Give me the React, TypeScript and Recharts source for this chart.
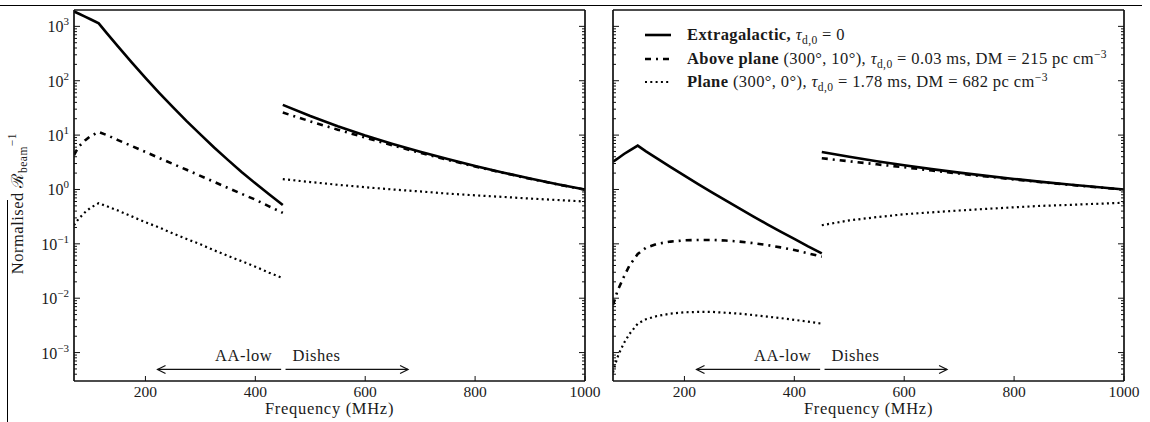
import { LineChart, Line, XAxis, YAxis, ReferenceLine } from 'recharts'

const FONT = '"Liberation Serif", "DejaVu Serif", serif'
const INK = '#111'
const TEXT = '#1a1a1a'

// frequency grids (MHz): AA-low band and Dishes band
const lowFreq = [70, 75, 80, 90, 100, 115, 130, 150, 175, 200, 225, 250, 275, 300, 325, 350, 375, 400, 425, 450]
const highFreq = [450, 500, 550, 600, 650, 700, 750, 800, 850, 900, 950, 1000]

// left panel
const leftExtraLow = [1880, 1780, 1690, 1510, 1350, 1135, 743, 427, 217, 113, 60, 32.7, 18.1, 10.3, 5.9, 3.5, 2.1, 1.3, 0.82, 0.52]
const leftExtraHigh = [36, 22.4, 14.6, 9.87, 6.88, 4.93, 3.62, 2.7, 2.06, 1.59, 1.25, 1.0]
const leftAboveLow = [4.3, 5.3, 6.3, 8.0, 9.6, 11.4, 10.0, 8.1, 6.3, 4.9, 3.8, 2.95, 2.3, 1.78, 1.38, 1.07, 0.83, 0.65, 0.49, 0.37]
const leftAboveHigh = [26, 17.9, 12.6, 9.0, 6.45, 4.73, 3.51, 2.65, 2.03, 1.57, 1.24, 0.99]
const leftPlaneLow = [0.22, 0.26, 0.3, 0.38, 0.46, 0.56, 0.49, 0.41, 0.32, 0.25, 0.2, 0.155, 0.123, 0.098, 0.076, 0.06, 0.048, 0.038, 0.0295, 0.0235]
const leftPlaneHigh = [1.55, 1.37, 1.22, 1.1, 1.0, 0.92, 0.84, 0.78, 0.73, 0.68, 0.64, 0.6]

// right panel
const rightExtraLow = [3.24, 3.5, 3.8, 4.5, 5.2, 6.4, 5.02, 3.73, 2.58, 1.79, 1.26, 0.885, 0.627, 0.447, 0.321, 0.231, 0.168, 0.123, 0.09, 0.067]
const rightExtraHigh = [4.9, 4.0, 3.31, 2.78, 2.37, 2.04, 1.78, 1.56, 1.38, 1.23, 1.11, 1.0]
const rightAboveLow = [0.0075, 0.011, 0.015, 0.025, 0.04, 0.065, 0.085, 0.1, 0.11, 0.116, 0.118, 0.118, 0.115, 0.11, 0.103, 0.095, 0.086, 0.077, 0.067, 0.058]
const rightAboveHigh = [3.75, 3.3, 2.9, 2.56, 2.23, 1.96, 1.73, 1.53, 1.36, 1.22, 1.1, 0.995]
const rightPlaneLow = [0.00043, 0.00065, 0.00092, 0.0015, 0.0022, 0.0034, 0.0041, 0.0047, 0.0052, 0.0055, 0.0056, 0.0056, 0.0054, 0.0052, 0.0049, 0.0046, 0.0043, 0.004, 0.0037, 0.0034]
const rightPlaneHigh = [0.22, 0.27, 0.31, 0.35, 0.38, 0.41, 0.44, 0.47, 0.5, 0.52, 0.545, 0.57]

// axes
const freqDomain = [70, 1000]
const freqTicks = [200, 400, 600, 800, 1000]
const yDomain = [3e-4, 2e3]
const decades = [-4, -3, -2, -1, 0, 1, 2, 3]
const minorSteps = [1, 2, 3, 4, 5, 6, 7, 8, 9]

// band annotations
const bandArrowY = 4.9e-4
const aaLowRange = [447, 222]
const dishesRange = [455, 678]

const STYLES = {
  extra: { dash: undefined, width: 2.6 },
  above: { dash: '6 5 2 5', width: 2.6 },
  plane: { dash: '2 3.3', width: 2.2 },
}

const yTicks = decades
  .flatMap((d) => minorSteps.map((k) => k * Math.pow(10, d)))
  .filter((v) => v > yDomain[0] * 1.001 && v < yDomain[1] * 0.999)

const pts = (freqs: number[], vals: number[]) => freqs.map((f, i) => ({ f, v: vals[i] }))

const leftSegments = [
  { key: 'el', data: pts(lowFreq, leftExtraLow), ...STYLES.extra },
  { key: 'eh', data: pts(highFreq, leftExtraHigh), ...STYLES.extra },
  { key: 'al', data: pts(lowFreq, leftAboveLow), ...STYLES.above },
  { key: 'ah', data: pts(highFreq, leftAboveHigh), ...STYLES.above },
  { key: 'pl', data: pts(lowFreq, leftPlaneLow), ...STYLES.plane },
  { key: 'ph', data: pts(highFreq, leftPlaneHigh), ...STYLES.plane },
]

const rightSegments = [
  { key: 'el', data: pts(lowFreq, rightExtraLow), ...STYLES.extra },
  { key: 'eh', data: pts(highFreq, rightExtraHigh), ...STYLES.extra },
  { key: 'al', data: pts(lowFreq, rightAboveLow), ...STYLES.above },
  { key: 'ah', data: pts(highFreq, rightAboveHigh), ...STYLES.above },
  { key: 'pl', data: pts(lowFreq, rightPlaneLow), ...STYLES.plane },
  { key: 'ph', data: pts(highFreq, rightPlaneHigh), ...STYLES.plane },
]

function isMajor(v: number) {
  const lg = Math.log10(v)
  return Math.abs(lg - Math.round(lg)) < 1e-6
}

function YTick({ x, y, payload, side, labels }: any) {
  const v = payload.value
  const major = isMajor(v)
  const dir = side === 'left' ? 1 : -1
  const len = major ? 6 : 3
  const exp = Math.round(Math.log10(v))
  return (
    <g>
      <line x1={x} x2={x + dir * len} y1={y} y2={y} stroke={INK} strokeWidth={1} />
      {labels && major && (
        <text x={x - 5} y={y + 6} textAnchor="end" fontFamily={FONT} fontSize={16} fill={TEXT}>
          10
          <tspan dy={-7} fontSize={11}>
            {exp < 0 ? `\u2212${-exp}` : exp}
          </tspan>
        </text>
      )}
    </g>
  )
}

function XTick({ x, y, payload, side, labels }: any) {
  const dir = side === 'bottom' ? -1 : 1
  return (
    <g>
      <line x1={x} x2={x} y1={y} y2={y + dir * 5} stroke={INK} strokeWidth={1} />
      {labels && (
        <text x={x} y={y + 16} textAnchor="middle" fontFamily={FONT} fontSize={15.5} fill={TEXT}>
          {payload.value}
        </text>
      )}
    </g>
  )
}

function BandArrow({ x1, y1, x2, y2, text }: any) {
  const dir = Math.sign(x2 - x1)
  return (
    <g>
      <line x1={x1} y1={y1} x2={x2} y2={y2} stroke={INK} strokeWidth={1.2} />
      <polyline
        points={`${x2 - dir * 8},${y2 - 4} ${x2},${y2} ${x2 - dir * 8},${y2 + 4}`}
        fill="none"
        stroke={INK}
        strokeWidth={1.2}
      />
      <text
        x={dir < 0 ? x1 - 9 : x1 + 7}
        y={y1 - 8}
        textAnchor={dir < 0 ? 'end' : 'start'}
        fontFamily={FONT}
        fontSize={16.5}
        letterSpacing={0.5}
        fill={TEXT}
      >
        {text}
      </text>
    </g>
  )
}

const axisLine = { stroke: INK, strokeWidth: 1.7 }

function Panel({ segments, width, leftWidth, marginLeft, marginRight, showYLabels }: any) {
  return (
    <LineChart width={width} height={422} margin={{ top: 5, right: marginRight, bottom: 11, left: marginLeft }}>
      <XAxis
        xAxisId="b"
        dataKey="f"
        type="number"
        domain={freqDomain}
        allowDataOverflow
        ticks={freqTicks}
        interval={0}
        height={30}
        tickSize={0}
        tickMargin={0}
        tickLine={false}
        axisLine={axisLine}
        tick={(p: any) => <XTick {...p} side="bottom" labels />}
        label={{
          content: ({ viewBox }: any) => (
            <text
              x={viewBox.x + viewBox.width / 2}
              y={viewBox.y + 33}
              textAnchor="middle"
              fontFamily={FONT}
              fontSize={16.5}
              letterSpacing={0.7}
              fill={TEXT}
            >
              Frequency (MHz)
            </text>
          ),
        }}
      />
      <XAxis
        xAxisId="t"
        orientation="top"
        type="number"
        domain={freqDomain}
        allowDataOverflow
        ticks={freqTicks}
        interval={0}
        height={5}
        tickSize={0}
        tickMargin={0}
        tickLine={false}
        axisLine={axisLine}
        tick={(p: any) => <XTick {...p} side="top" />}
      />
      <YAxis
        yAxisId="l"
        type="number"
        scale="log"
        domain={yDomain}
        allowDataOverflow
        ticks={yTicks}
        interval={0}
        width={leftWidth}
        tickSize={0}
        tickMargin={0}
        tickLine={false}
        axisLine={axisLine}
        tick={(p: any) => <YTick {...p} side="left" labels={showYLabels} />}
        label={
          showYLabels
            ? {
                content: ({ viewBox }: any) => {
                  const cx = 23
                  const cy = viewBox.y + viewBox.height / 2 + 8
                  return (
                    <text
                      transform={`rotate(-90, ${cx}, ${cy})`}
                      x={cx}
                      y={cy}
                      textAnchor="middle"
                      fontFamily={FONT}
                      fontSize={16.5}
                      letterSpacing={0.5}
                      fill={TEXT}
                    >
                      Normalised {'\u211B'}
                      <tspan dy={4} fontSize={11.5}>
                        beam
                      </tspan>
                      <tspan dy={-11} fontSize={11.5}>
                        {'\u22121'}
                      </tspan>
                    </text>
                  )
                },
              }
            : undefined
        }
      />
      <YAxis
        yAxisId="r"
        orientation="right"
        type="number"
        scale="log"
        domain={yDomain}
        allowDataOverflow
        ticks={yTicks}
        interval={0}
        width={10}
        tickSize={0}
        tickMargin={0}
        tickLine={false}
        axisLine={axisLine}
        tick={(p: any) => <YTick {...p} side="right" />}
      />
      {segments.map((s: any) => (
        <Line
          key={s.key}
          xAxisId="b"
          yAxisId="l"
          data={s.data}
          dataKey="v"
          type="linear"
          stroke="#000"
          strokeWidth={s.width}
          strokeDasharray={s.dash}
          dot={false}
          activeDot={false}
          isAnimationActive={false}
        />
      ))}
      <ReferenceLine
        xAxisId="b"
        yAxisId="l"
        segment={[
          { x: aaLowRange[0], y: bandArrowY },
          { x: aaLowRange[1], y: bandArrowY },
        ]}
        shape={(p: any) => <BandArrow {...p} text="AA-low" />}
      />
      <ReferenceLine
        xAxisId="b"
        yAxisId="l"
        segment={[
          { x: dishesRange[0], y: bandArrowY },
          { x: dishesRange[1], y: bandArrowY },
        ]}
        shape={(p: any) => <BandArrow {...p} text="Dishes" />}
      />
    </LineChart>
  )
}

const tau = (
  <>
    <i>{'\u03C4'}</i>
    <sub style={{ fontSize: '0.7em' }}>d,0</sub>
  </>
)
const cm3 = <sup style={{ fontSize: '0.7em' }}>{'\u22123'}</sup>

const legendRows = [
  {
    style: STYLES.extra,
    label: (
      <>
        <b>Extragalactic,</b> {tau} = 0
      </>
    ),
  },
  {
    style: STYLES.above,
    label: (
      <>
        <b>Above plane</b> (300°, 10°), {tau} = 0.03 ms, DM = 215 pc cm{cm3}
      </>
    ),
  },
  {
    style: STYLES.plane,
    label: (
      <>
        <b>Plane</b> (300°, 0°), {tau} = 1.78 ms, DM = 682 pc cm{cm3}
      </>
    ),
  },
]
const legendRowY = [35, 59, 82]

function LegendBox() {
  return (
    <>
      {legendRows.map((r, i) => (
        <div
          key={i}
          style={{
            position: 'absolute',
            left: 645,
            top: legendRowY[i] - 11,
            height: 22,
            display: 'flex',
            alignItems: 'center',
            whiteSpace: 'nowrap',
            fontFamily: FONT,
            fontSize: 16.5,
            letterSpacing: 0.4,
            lineHeight: '22px',
            color: TEXT,
          }}
        >
          <svg width={26} height={6} style={{ marginRight: 16 }}>
            <line x1={0} x2={26} y1={3} y2={3} stroke="#000" strokeWidth={r.style.width} strokeDasharray={r.style.dash} />
          </svg>
          <span>{r.label}</span>
        </div>
      ))}
    </>
  )
}

export default function App() {
  return (
    <div style={{ position: 'relative', width: 1150, height: 422, background: '#fff', overflow: 'hidden' }}>
      <style>{'body{margin:0} sub,sup{line-height:0}'}</style>
      <div style={{ position: 'absolute', left: 0, top: 5, width: 1142, height: 1, background: '#000' }} />
      <div style={{ position: 'absolute', left: 7, top: 200, width: 1, height: 222, background: '#000' }} />
      <div style={{ position: 'absolute', left: 0, top: 0 }}>
        <Panel segments={leftSegments} width={604} leftWidth={60} marginLeft={14} marginRight={9} showYLabels />
      </div>
      <div style={{ position: 'absolute', left: 604, top: 0 }}>
        <Panel segments={rightSegments} width={546} leftWidth={8} marginLeft={1} marginRight={16} showYLabels={false} />
      </div>
      <LegendBox />
    </div>
  )
}
